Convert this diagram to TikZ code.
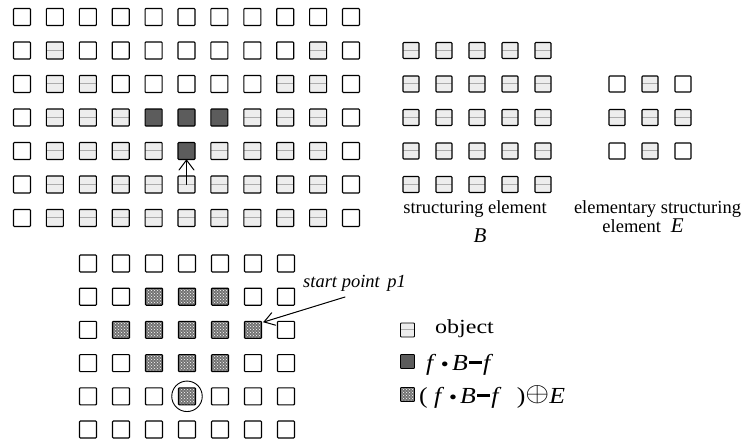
\documentclass[tikz,border=0pt]{standalone}
\usepackage{fontspec}
\usepackage{graphicx}
\setmainfont{Liberation Serif}
\usetikzlibrary{calc,patterns}

\newcommand{\opdot}{\hspace{0.2em}\raisebox{0.28ex}{\scalebox{0.5}{$\bullet$}}\hspace{0.14em}}
\newcommand{\opminus}{\hspace{0.05em}\rule[0.27em]{0.5em}{0.12em}\hspace{0.05em}}

\tikzset{
  cell/.style={draw, line width=1.1pt, minimum size=17pt, inner sep=0pt, rounded corners=0.8pt},
  cell-e/.style={cell},
  cell-o/.style={cell, fill=gray!14,
    path picture={\draw[gray!65, line width=0.5pt]
      ([yshift=0.6pt]path picture bounding box.west) -- ([yshift=0.6pt]path picture bounding box.east);}},
  cell-d/.style={cell, fill=black!64},
  cell-h/.style={cell, preaction={fill=black!55}, pattern=crosshatch dots, pattern color=white},
  small/.style={minimum size=16pt},
  legend/.style={minimum size=14pt, line width=0.9pt},
  label/.style={font=\fontsize{18.5}{20}\selectfont, inner sep=0pt},
  pointer/.style={line width=1pt, line cap=round, line join=miter},
}

\begin{document}
\begin{tikzpicture}[x=1pt, y=-1pt]
\useasboundingbox (0,0) rectangle (743,442);

% image f with the closing residue f.B - f
\foreach \row [count=\r] in {
  {e,e,e,e,e,e,e,e,e,e,e},
  {e,o,e,e,e,e,e,e,e,o,e},
  {e,o,o,e,e,e,e,e,o,o,e},
  {e,o,o,o,d,d,d,o,o,o,e},
  {e,o,o,o,o,d,o,o,o,o,e},
  {e,o,o,o,o,o,o,o,o,o,e},
  {e,o,o,o,o,o,o,o,o,o,e}} {
  \foreach \s [count=\c] in \row {
    \node[cell-\s] (t-\r-\c) at ({22+32.9*(\c-1)}, {17+33.5*(\r-1)}) {};
  }
}
% open arrow from the cell below up to the residue cell
\coordinate (up-tip) at (t-5-6.south);
\coordinate (up-tail) at (t-6-6.center);
\draw[pointer] (up-tail) -- (up-tip);
\draw[pointer] ($(up-tip)!12.5pt!37:(up-tail)$) -- (up-tip) -- ($(up-tip)!12.5pt!-37:(up-tail)$);

% structuring element B
\foreach \r in {1,...,5} {
  \foreach \c in {1,...,5} {
    \node[cell-o, small] (b-\r-\c) at ({411+33*(\c-1)}, {50.5+33.5*(\r-1)}) {};
  }
}
\node[label, anchor=base] (blabel) at (475,213) {structuring element};
\node[label, anchor=base, font=\fontsize{21}{22}\selectfont] (bname) at (480,242) {\textit{B}};

% elementary structuring element E
\foreach \row [count=\r] in {{e,o,e},{o,o,o},{e,o,e}} {
  \foreach \s [count=\c] in \row {
    \node[cell-\s, small] (e-\r-\c) at ({617+33*(\c-1)}, {84+33.5*(\r-1)}) {};
  }
}
\node[label, anchor=base] (elabel) at (657.5,213) {elementary structuring};
\node[label, anchor=base] (ename) at (643,232) {element \;{\fontsize{21}{22}\selectfont\textit{E}}};

% dilation of the residue by E
\foreach \row [count=\r] in {
  {e,e,e,e,e,e,e},
  {e,e,h,h,h,e,e},
  {e,h,h,h,h,h,e},
  {e,e,h,h,h,e,e},
  {e,e,e,h,e,e,e},
  {e,e,e,e,e,e,e}} {
  \foreach \s [count=\c] in \row {
    \node[cell-\s] (d-\r-\c) at ({88+33*(\c-1)}, {263.5+33.2*(\r-1)}) {};
  }
}
\node[draw, circle, line width=0.9pt, minimum size=30.5pt, inner sep=0pt] (ring) at (d-5-4) {};

% start point marker
\node[label, anchor=base west, font=\fontsize{18.5}{20}\selectfont\itshape] (start) at (303,287) {start point\, p1};
\coordinate (sp) at (345,297);
\coordinate (sp-tip) at ([xshift=2pt,yshift=8pt]d-3-6.east);
\draw[pointer] (sp) -- (sp-tip);
\draw[pointer] ($(sp-tip)!12pt!33:(sp)$) -- (sp-tip) -- ($(sp-tip)!12pt!-33:(sp)$);

% legend
\node[cell-o, legend] (k1) at (407.5,330) {};
\node[cell-d, legend] (k2) at (407.5,361.5) {};
\node[cell-h, legend] (k3) at (407.5,394.5) {};
\node[label, anchor=base west, font=\fontsize{20}{22}\selectfont] (t1) at (435,333) {\scalebox{1.2}[1]{object}};
\node[label, anchor=base west, font=\fontsize{23}{24}\selectfont] (t2) at (426,370)
  {\scalebox{1.12}[1]{\textit{f}\opdot\textit{B}\opminus\textit{f}}};
\node[label, anchor=base west, font=\fontsize{23}{24}\selectfont] (t3) at (419,403)
  {\scalebox{1.12}[1]{(\hspace{0.25em}\textit{f}\opdot\textit{B}\opminus\textit{f}\hspace{0.6em})\raisebox{0.05em}{\scalebox{1.1}{$\oplus$}}\textit{E}}};
\end{tikzpicture}
\end{document}
